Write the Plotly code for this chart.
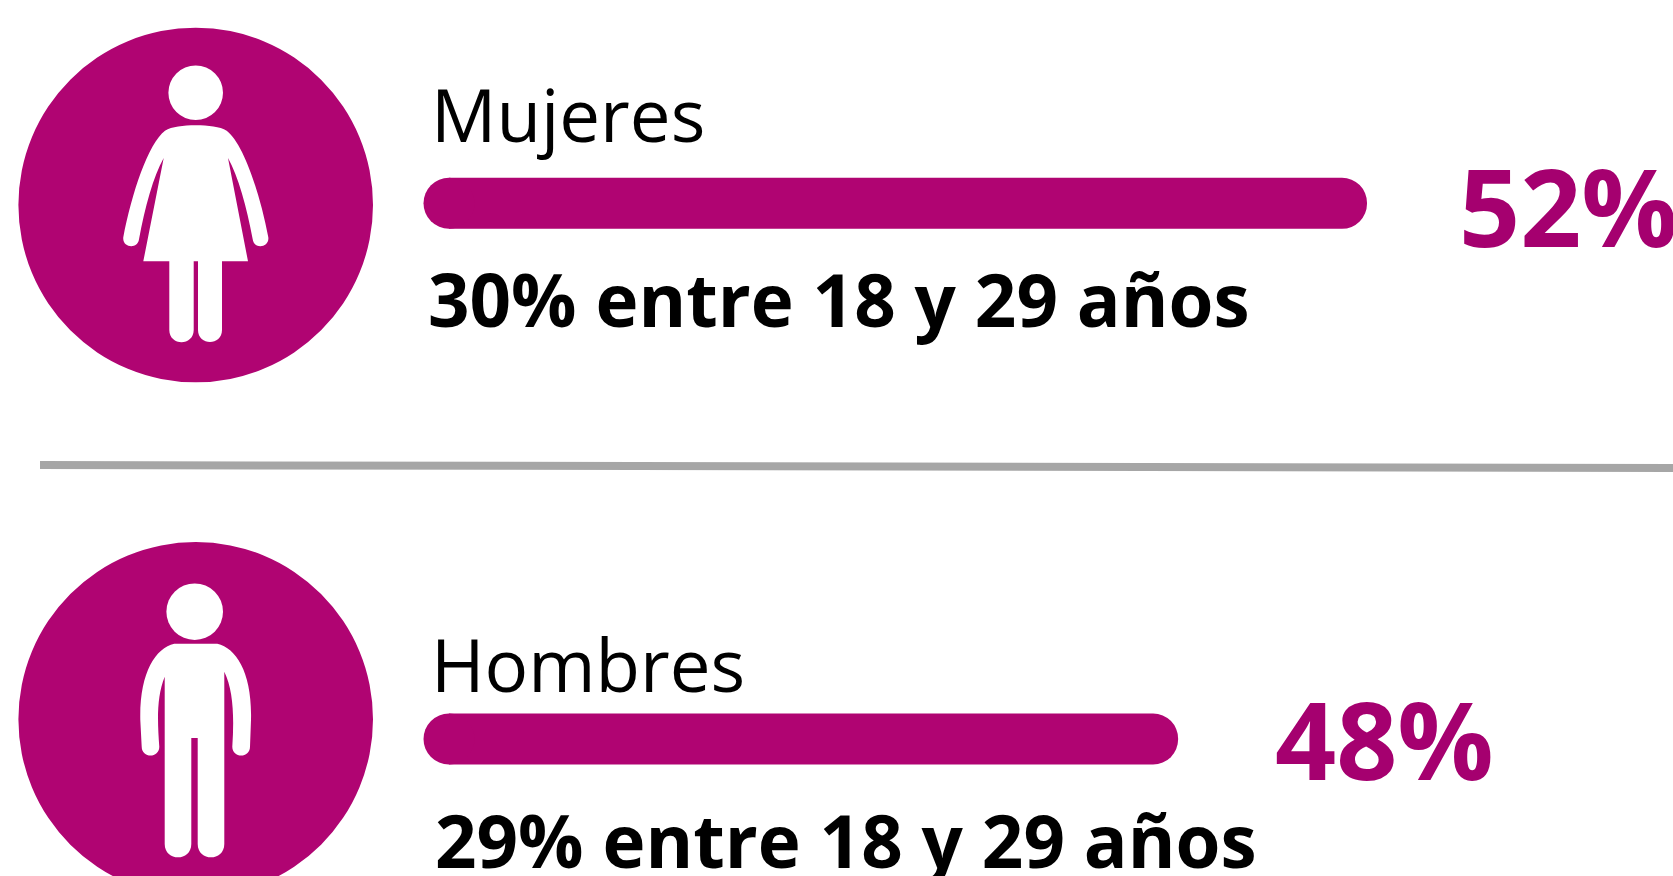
import plotly.graph_objects as go

W, H = 1673, 876
categories = ["Mujeres", "Hombres"]
bar_lengths = [52, 41.3]
share_labels = ["52%", "48%"]
age_labels = ["30% entre 18 y 29 años", "29% entre 18 y 29 años"]

BAR = "#B00472"
PCT = "#A5006F"
FONT = "Open Sans"

# --- bars (own axes) ---
Y0, Y1 = 203.3, 739.0
unit = Y1 - Y0
y_top = -Y0 / unit
y_bot = 1 + (H - Y1) / unit
fig = go.Figure()
fig.add_trace(go.Bar(y=categories, x=bar_lengths, orientation="h", width=51 / unit,
                     marker=dict(color=BAR, cornerradius=25, line_width=0),
                     xaxis="x2", yaxis="y2", showlegend=False, hoverinfo="x+y"))
fig.add_trace(go.Scatter(y=categories, x=[0, 0], mode="markers",
                         marker=dict(color=BAR, size=51, line_width=0),
                         xaxis="x2", yaxis="y2", showlegend=False, hoverinfo="skip",
                         cliponaxis=False))

# --- pictograms: outlines at 3x crop scale ---
def P(x, y, oy):
    return f"{x / 3:.1f},{y / 3 + oy:.1f}"

def path(cmds, oy):
    out = []
    cur = None
    for c in cmds:
        op, pts = c[0], c[1:]
        if op == "M":
            out.append("M" + P(*pts[0], oy)); cur = pts[0]
        elif op == "L":
            for p in pts:
                out.append("L" + P(*p, oy)); cur = p
        elif op == "C":
            for i in range(0, len(pts), 3):
                out.append("C" + " ".join(P(*q, oy) for q in pts[i:i + 3])); cur = pts[i + 2]
        elif op == "R":  # round cap from the current point to the given one
            end = pts[0]
            dx, dy = end[0] - cur[0], end[1] - cur[1]
            k = 2 / 3
            c1 = (cur[0] + dy * k, cur[1] - dx * k)
            c2 = (end[0] + dy * k, end[1] - dx * k)
            out.append("C" + " ".join(P(*q, oy) for q in (c1, c2, end))); cur = end
    return " ".join(out) + " Z"

woman = [("M", (587, 376)),
         ("C", (625, 376), (660, 380), (680, 392), (730, 430), (780, 580), (805, 712)),
         ("R", (758, 718)),
         ("C", (740, 620), (715, 530), (684, 474)),
         ("L", (744, 784), (666, 784), (666, 990)),
         ("R", (594, 990)),
         ("L", (594, 784), (581, 784), (581, 990)),
         ("R", (508, 990)),
         ("L", (508, 784), (430, 784), (491, 474)),
         ("C", (460, 530), (435, 620), (417, 718)),
         ("R", (370, 712)),
         ("C", (395, 580), (445, 430), (495, 392), (515, 380), (550, 376), (587, 376))]
man = [("M", (523, 371)), ("L", (652, 371)),
       ("C", (710, 385), (757, 460), (753, 600)),
       ("L", (750, 680)),
       ("R", (697, 680)),
       ("C", (703, 590), (700, 510), (673, 455)),
       ("L", (673, 972)),
       ("R", (593, 972)),
       ("L", (593, 654), (574, 654), (574, 972)),
       ("R", (494, 972)),
       ("L", (494, 470)),
       ("C", (470, 530), (472, 600), (478, 680)),
       ("R", (425, 680)),
       ("L", (421, 600)),
       ("C", (418, 460), (465, 385), (523, 371))]

shapes = []
def circle(cx, cy, r, color):
    return dict(type="circle", xref="x", yref="y", x0=cx - r, x1=cx + r, y0=cy - r, y1=cy + r,
                fillcolor=color, line_width=0)

shapes += [circle(195.7, 205, 177.3, BAR), circle(195.7, 92.7, 27.3, "white"),
           dict(type="path", xref="x", yref="y", path=path(woman, 0), fillcolor="white", line_width=0)]
shapes += [circle(195.7, 719.3, 177.3, BAR), circle(194.7, 611.7, 28.3, "white"),
           dict(type="path", xref="x", yref="y", path=path(man, 520), fillcolor="white", line_width=0)]
shapes.append(dict(type="line", xref="x", yref="y", x0=40, y0=465, x1=W, y1=468,
                   line=dict(color="#A6A6A6", width=8)))

# --- text ---
def label(x, y, text, size, color, weight):
    return dict(x=x, y=y, xref="x", yref="y", text=text, showarrow=False,
                xanchor="left", yanchor="middle", borderpad=0,
                font=dict(family=FONT, size=size, color=color, weight=weight))

annotations = [
    label(430, 113.5, categories[0], 72.7, "#000000", 400),
    label(430, 663, categories[1], 72.7, "#000000", 400),
    label(427, 298, age_labels[0], 72.7, "#000000", 700),
    label(434, 839, age_labels[1], 72.7, "#000000", 700),
    label(1458, 205, share_labels[0], 107, PCT, 700),
    label(1274, 738, share_labels[1], 107, PCT, 700),
]

fig.update_layout(
    width=W, height=H, autosize=False, margin=dict(l=0, r=0, t=0, b=0),
    paper_bgcolor="white", plot_bgcolor="white", showlegend=False,
    xaxis=dict(range=[0, W], visible=False, fixedrange=True),
    yaxis=dict(range=[H, 0], visible=False, fixedrange=True),
    xaxis2=dict(domain=[449 / W, 1367 / W], range=[0, 52], visible=False, anchor="y2"),
    yaxis2=dict(domain=[0, 1], range=[y_bot, y_top], visible=False, overlaying="y", anchor="x2",
                type="category", categoryorder="array", categoryarray=categories),
    shapes=shapes, annotations=annotations,
)
fig.write_html("out.html", config={"displayModeBar": False},
               post_script="document.body.style.margin='0';document.body.style.overflow='hidden';")
